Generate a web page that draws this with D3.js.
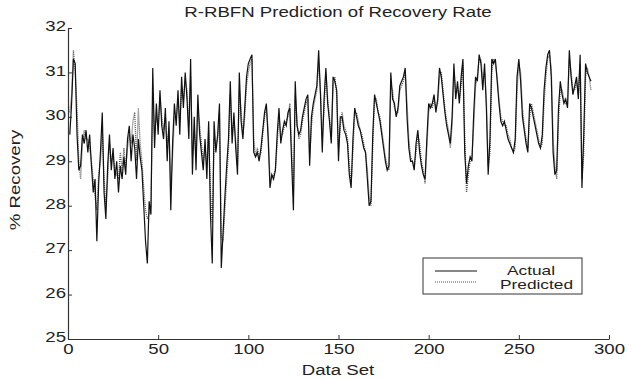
<!DOCTYPE html>
<html>
<head>
<meta charset="utf-8">
<script src="https://cdn.jsdelivr.net/npm/d3@7"></script>
<style>
  body { margin: 0; background: #fff; }
  text { font-family: "Liberation Sans", Arial, sans-serif; fill: #222; }
</style>
</head>
<body>
<div id="chart"></div>
<script>
// values (index 1..290)
const actual = [
  29.6, 30.3, 31.3, 31.2, 29.6, 28.8, 28.9, 29.6, 29.4, 29.7,
  29.2, 29.6, 28.9, 28.3, 28.6, 27.2, 28.5, 29.2, 30.1, 28.3,
  27.7, 28.9, 29.6, 28.8, 29.3, 28.6, 29.0, 28.3, 28.9, 28.6,
  29.1, 28.7, 29.5, 29.8, 29.0, 29.6, 29.3, 28.6, 29.5, 29.1,
  28.8, 28.0, 27.2, 26.7, 28.1, 27.8, 31.1, 29.3, 30.3, 29.6,
  30.6, 29.8, 29.5, 30.2, 29.0, 29.9, 27.9, 29.4, 30.3, 29.8,
  30.6, 29.6, 30.9, 30.2, 31.0, 30.4, 29.5, 31.3, 28.7, 30.0,
  28.8, 30.5, 29.6, 29.2, 28.8, 29.5, 28.6, 29.9, 27.8, 26.7,
  29.9, 29.2, 29.6, 30.3, 26.6, 27.4, 28.2, 28.9, 29.5, 30.8,
  29.4, 30.1, 29.3, 28.7, 31.0, 29.9, 29.5, 30.2, 30.9, 31.2,
  31.3, 31.4, 29.2, 29.1, 29.2, 29.0, 29.3, 29.7, 30.1, 30.3,
  29.5, 28.4, 28.7, 28.6, 28.8, 29.6, 30.2, 29.4, 29.7, 29.9,
  29.8, 30.1, 30.2, 29.0, 27.9, 30.8, 29.8, 29.6, 29.7, 30.0,
  30.2, 30.4, 30.5, 28.9, 30.0, 30.3, 30.5, 30.7, 31.5, 30.5,
  29.2, 30.4, 31.1, 30.3, 29.9, 29.4, 30.9, 30.8, 30.6, 29.0,
  30.0, 30.0, 29.7, 29.6, 29.4, 28.7, 28.4, 29.5, 30.2, 30.0,
  29.8, 29.7, 29.5, 29.3, 29.2, 28.6, 28.0, 28.1, 29.6, 30.5,
  30.3, 30.1, 29.9, 29.6, 29.3, 29.0, 28.8, 28.9, 31.0, 30.4,
  30.3, 30.0, 30.2, 30.7, 30.8, 30.9, 31.1, 30.0, 29.3, 29.0,
  29.0, 28.8, 29.4, 29.7, 29.2, 28.9, 28.7, 28.6, 29.5, 30.3,
  30.2, 30.3, 30.5, 30.1, 30.4, 31.1, 30.9, 30.5, 30.1, 29.8,
  29.6, 29.4, 30.0, 31.2, 30.4, 30.8, 30.3, 30.9, 31.3, 29.2,
  28.5, 28.9, 29.1, 29.0, 30.1, 30.9, 30.8, 31.4, 31.2, 30.6,
  31.2, 30.2, 28.7, 29.5, 31.3, 31.2, 31.3, 30.8, 30.3, 29.9,
  29.8, 29.9, 29.7, 29.5, 29.4, 29.3, 29.2, 29.5, 30.9, 31.3,
  30.8, 30.0, 29.7, 29.4, 29.2, 30.3, 30.2, 30.0, 29.8, 29.6,
  29.4, 29.3, 29.6, 30.6, 31.1, 31.4, 31.5, 30.9, 29.2, 28.7,
  28.8, 30.2, 30.8, 30.5, 30.3, 30.4, 30.2, 31.5, 30.9, 30.5,
  30.7, 30.9, 30.4, 31.4, 28.4, 29.6, 31.2, 31.0, 30.9, 30.8
];

const predicted = [
  30.1, 30.5, 31.5, 31.0, 30.2, 29.0, 28.6, 29.4, 29.7, 29.5,
  29.5, 29.3, 29.0, 28.6, 28.2, 27.9, 28.7, 29.0, 29.7, 28.6,
  28.0, 28.6, 29.4, 29.0, 29.1, 28.8, 28.7, 28.6, 29.2, 28.8,
  29.3, 28.9, 29.3, 29.6, 29.4, 29.9, 30.1, 29.0, 30.2, 29.4,
  29.0, 28.4, 27.9, 27.7, 27.8, 28.0, 30.5, 29.6, 30.0, 29.8,
  30.4, 30.0, 29.7, 30.0, 29.4, 29.7, 28.5, 29.1, 30.0, 30.0,
  30.4, 29.9, 30.6, 30.4, 30.8, 30.6, 29.8, 30.9, 29.1, 29.7,
  29.1, 30.2, 29.8, 29.4, 29.0, 29.3, 28.9, 29.7, 28.3, 27.6,
  29.5, 29.4, 29.5, 30.1, 27.3, 27.2, 27.9, 28.6, 29.3, 30.5,
  29.6, 29.9, 29.5, 28.9, 30.6, 30.1, 29.6, 30.0, 30.7, 31.0,
  31.2, 31.3, 29.5, 29.1, 29.3, 29.1, 29.2, 29.6, 30.0, 30.2,
  29.7, 28.6, 28.6, 28.7, 28.8, 29.4, 30.0, 29.6, 29.6, 29.8,
  29.9, 30.0, 30.3, 29.3, 28.2, 30.5, 29.9, 29.5, 29.6, 29.9,
  30.1, 30.3, 30.4, 29.1, 29.8, 30.2, 30.4, 30.6, 31.2, 30.6,
  29.5, 30.2, 31.0, 30.4, 30.0, 29.5, 30.7, 30.9, 30.5, 29.3,
  29.8, 30.1, 29.8, 29.7, 29.5, 28.9, 28.5, 29.2, 30.1, 30.1,
  29.9, 29.7, 29.6, 29.4, 29.2, 28.8, 28.2, 28.0, 29.3, 30.4,
  30.4, 30.1, 30.0, 29.7, 29.4, 29.1, 28.9, 28.8, 30.7, 30.6,
  30.2, 30.1, 30.1, 30.6, 30.7, 30.8, 31.0, 30.3, 29.5, 29.1,
  29.0, 28.9, 29.2, 29.6, 29.4, 29.0, 28.8, 28.5, 29.3, 30.1,
  30.3, 30.2, 30.4, 30.2, 30.3, 30.9, 31.0, 30.6, 30.2, 29.9,
  29.7, 29.3, 29.8, 31.0, 30.6, 30.6, 30.4, 30.7, 31.2, 29.6,
  28.3, 28.7, 29.0, 29.1, 29.8, 30.7, 30.9, 31.3, 31.3, 30.8,
  31.0, 30.4, 28.9, 29.2, 31.0, 31.3, 31.2, 30.9, 30.4, 30.0,
  29.9, 29.8, 29.8, 29.6, 29.5, 29.3, 29.2, 29.3, 30.6, 31.2,
  31.0, 30.2, 29.8, 29.5, 29.3, 30.0, 30.3, 30.1, 29.9, 29.7,
  29.5, 29.3, 29.4, 30.3, 30.9, 31.3, 31.4, 31.1, 29.5, 28.9,
  28.6, 29.9, 30.6, 30.6, 30.4, 30.3, 30.3, 31.3, 31.0, 30.6,
  30.6, 30.8, 30.5, 31.2, 28.6, 29.2, 30.9, 31.1, 30.9, 30.6
];

const xTicks = [0, 50, 100, 150, 200, 250, 300];
const yTicks = [25, 26, 27, 28, 29, 30, 31, 32];
const seriesNames = ["Actual", "Predicted"];

const width = 632, height = 380;
const margin = { top: 28, right: 23, bottom: 41, left: 68 };
const stretch = 1.33; // the reference text is wide, like a resized matlab figure

const svg = d3.select("#chart").append("svg")
    .attr("width", width)
    .attr("height", height);

const x = d3.scaleLinear().domain([0, 300]).range([margin.left, width - margin.right]);
const y = d3.scaleLinear().domain([25, 32]).range([height - margin.bottom, margin.top]);

// axes, ticks pointing inward like the old matlab plots
const xAxis = svg.append("g")
    .attr("transform", `translate(0,${height - margin.bottom})`)
    .call(d3.axisBottom(x).tickValues(xTicks).tickFormat(d3.format("d"))
        .tickSizeInner(-4).tickSizeOuter(0).tickPadding(8));

const yAxis = svg.append("g")
    .attr("transform", `translate(${margin.left},0)`)
    .call(d3.axisLeft(y).tickValues(yTicks).tickFormat(d3.format("d"))
        .tickSizeInner(-4).tickSizeOuter(0).tickPadding(2));

[xAxis, yAxis].forEach(g => {
    g.select(".domain").attr("stroke", "#333").attr("stroke-width", 1.2);
    g.selectAll(".tick line").attr("stroke", "#333");
    g.selectAll(".tick text")
        .style("font-family", "'Liberation Sans', Arial, sans-serif")
        .style("font-size", "14px")
        .attr("fill", "#333");
});
xAxis.selectAll(".tick text").attr("dy", "0.5em");
yAxis.selectAll(".tick text").attr("dy", "0.2em");

const line = d3.line()
    .x((d, i) => x(i + 1))
    .y(d => y(d));

svg.append("path")
    .datum(predicted)
    .attr("d", line)
    .attr("fill", "none")
    .attr("stroke", "#555")
    .attr("stroke-width", 1.3)
    .attr("stroke-dasharray", "1,1");

svg.append("path")
    .datum(actual)
    .attr("d", line)
    .attr("fill", "none")
    .attr("stroke", "#111")
    .attr("stroke-width", 1.2);

// title and axis labels
svg.append("text")
    .attr("x", 338).attr("y", 17)
    .attr("text-anchor", "middle")
    .style("font-size", "14px")
    .text("R-RBFN Prediction of Recovery Rate");

svg.append("text")
    .attr("x", 338).attr("y", 375)
    .attr("text-anchor", "middle")
    .style("font-size", "14px")
    .text("Data Set");

svg.append("text")
    .attr("transform", "translate(20,180) rotate(-90)")
    .attr("text-anchor", "middle")
    .style("font-size", "14px")
    .text("% Recovery");

// legend
const legend = svg.append("g");
legend.append("rect")
    .attr("x", 423).attr("y", 258)
    .attr("width", 159).attr("height", 36)
    .attr("fill", "#fff")
    .attr("stroke", "#333");

legend.selectAll("line")
    .data(seriesNames)
    .enter()
    .append("line")
        .attr("x1", 435).attr("x2", 477)
        .attr("y1", (d, i) => 271 + i * 11)
        .attr("y2", (d, i) => 271 + i * 11)
        .attr("stroke", (d, i) => i ? "#555" : "#111")
        .attr("stroke-width", 1.2)
        .attr("stroke-dasharray", (d, i) => i ? "1,1" : null);

legend.selectAll("text")
    .data(seriesNames)
    .enter()
    .append("text")
        .attr("x", (d, i) => i ? 500 : 507)
        .attr("y", (d, i) => 275 + i * 14)
        .style("font-size", "13px")
        .text(d => d);

// widen every text the same way
svg.selectAll("text").each(function() {
    const len = this.getComputedTextLength();
    d3.select(this)
        .attr("textLength", len * stretch)
        .attr("lengthAdjust", "spacingAndGlyphs");
});
</script>
</body>
</html>
